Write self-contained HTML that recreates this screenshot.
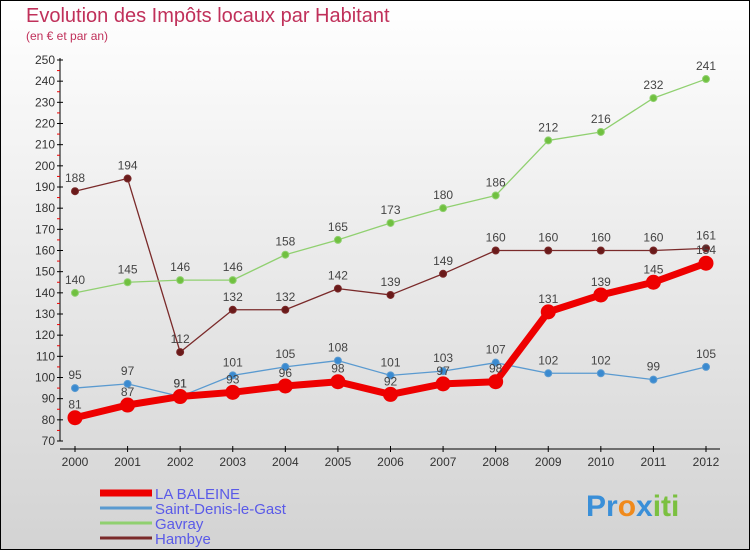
<!DOCTYPE html>
<html><head><meta charset="utf-8">
<style>
body{margin:0;width:750px;height:550px;overflow:hidden;font-family:"Liberation Sans",sans-serif}
svg{display:block}
</style></head><body>
<svg id="c" width="750" height="550" xmlns="http://www.w3.org/2000/svg">
<defs><linearGradient id="bg" x1="0" y1="0" x2="0" y2="1"><stop offset="0" stop-color="#ffffff"/><stop offset="1" stop-color="#d3d3d3"/></linearGradient></defs>
<rect x="0.5" y="0.5" width="749" height="549" fill="url(#bg)" stroke="#000"/>
<text x="26" y="22" font-size="20" fill="#c0305a">Evolution des Impôts locaux par Habitant</text>
<text x="26" y="40" font-size="12" fill="#c0305a">(en € et par an)</text>
<g id="axes"></g><g id="series"></g>
<text x="586" y="516" font-size="30" font-weight="bold"><tspan fill="#3a8fd8">Pr</tspan><tspan fill="#f08a1c">o</tspan><tspan fill="#3a8fd8">x</tspan><tspan fill="#7bc040">iti</tspan></text>
</svg>
<script>
const years=[2000,2001,2002,2003,2004,2005,2006,2007,2008,2009,2010,2011,2012];
const baleine=[81,87,91,93,96,98,92,97,98,131,139,145,154];
const saintDenis=[95,97,91,101,105,108,101,103,107,102,102,99,105];
const gavray=[140,145,146,146,158,165,173,180,186,212,216,232,241];
const hambye=[188,194,112,132,132,142,139,149,160,160,160,160,161];
const yTicks=[70,80,90,100,110,120,130,140,150,160,170,180,190,200,210,220,230,240,250];
const NS="http://www.w3.org/2000/svg";
const xs=i=>75+i*(706-75)/12;
const ys=v=>441-(v-70)*(441-60)/180;
function mk(t,a,p){const e=document.createElementNS(NS,t);for(const k in a)e.setAttribute(k,a[k]);p.appendChild(e);return e;}
const ax=document.getElementById('axes');
let yl=mk('line',{x1:60,y1:58,x2:60,y2:441,stroke:'#000'},ax);


let xl=mk('line',{x1:60,y1:449,x2:720,y2:449,stroke:'#000'},ax);


yTicks.forEach((v,i)=>{
 const y=ys(v);
 mk('line',{x1:57,y1:y,x2:63,y2:y,stroke:'#000'},ax);
 if(i<yTicks.length-1) mk('line',{x1:57,y1:y-(ys(70)-ys(75)),x2:60,y2:y-(ys(70)-ys(75)),stroke:'#e00'},ax);
 const t=mk('text',{x:55,y:y+4,'font-size':12,'text-anchor':'end',fill:'#333'},ax);t.textContent=v;
 
 
});
years.forEach((yr,i)=>{
 const x=xs(i);
 mk('line',{x1:x,y1:446,x2:x,y2:452,stroke:'#000'},ax);
 const t=mk('text',{x:x,y:466,'font-size':12,'text-anchor':'middle',fill:'#333'},ax);t.textContent=yr;
 
 
});
const sg=document.getElementById('series');
function series(d,name,col,dot,w,r,lab,leg){
 const g=mk('g',{},sg);
 
 
 mk('polyline',{points:d.map((v,i)=>xs(i)+','+ys(v)).join(' '),fill:'none',stroke:col,'stroke-width':w,'stroke-linejoin':'round'},g);
 d.forEach((v,i)=>{
  const c=mk('circle',{cx:xs(i),cy:ys(v),r:r,fill:dot,stroke:col,'stroke-width':1},g);
  
  
  const t=mk('text',{x:xs(i),y:ys(v)-9,'font-size':12,'text-anchor':'middle',fill:'#444'},g);t.textContent=v;
  
  
 });
 const ly=493+leg*15;
 const l=mk('line',{x1:100,y1:ly,x2:152,y2:ly,stroke:col,'stroke-width':leg==0?7:3},sg);
 
 
 const lt=mk('text',{x:155,y:ly+6,'font-size':15,fill:'#5a5ae8'},sg);lt.textContent=lab;
 
 
}
series(hambye,'hambye','#7a2a2a','#6a1a1a',1.3,3.5,'Hambye',3);
series(gavray,'gavray','#90d070','#70c040',1.3,3.5,'Gavray',2);
series(saintDenis,'saint-denis','#5a9ad0','#3a8ad0',1.3,3.5,'Saint-Denis-le-Gast',1);
series(baleine,'la-baleine','#ee0000','#ee0000',7,7,'LA BALEINE',0);
</script>
</body></html>
